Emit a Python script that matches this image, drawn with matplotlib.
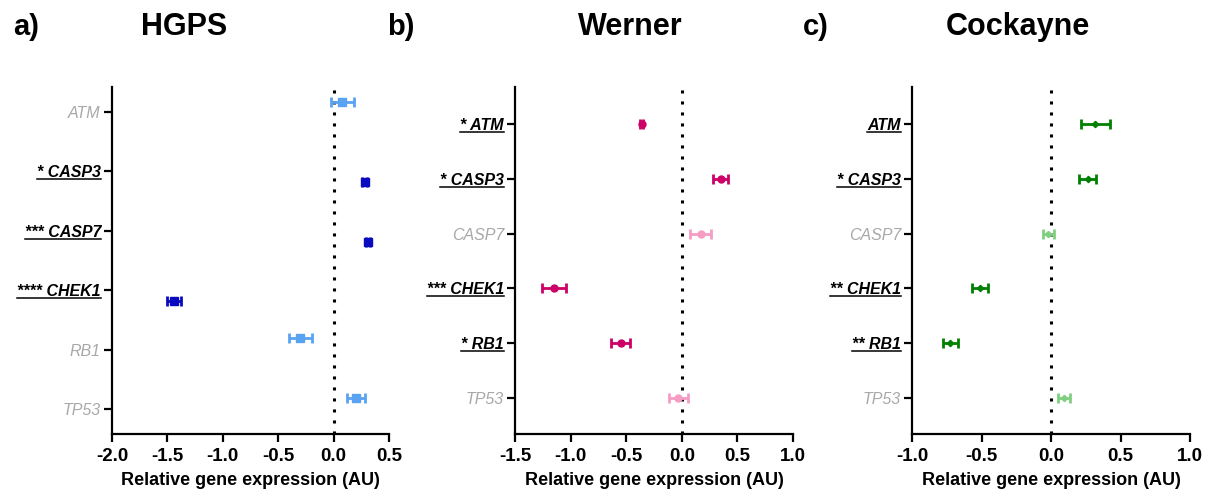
import numpy as np
import matplotlib
matplotlib.use("Agg")
import matplotlib.pyplot as plt
from matplotlib.lines import Line2D

plt.rcParams['font.family'] = ['Liberation Sans', 'DejaVu Sans']

# Datos
genes = ["ATM", "CASP3", "CASP7", "CHEK1", "RB1", "TP53"]

hgps_mean = [0.08, 0.28, 0.31, -1.44, -0.30, 0.20]
hgps_err = [0.10, 0.02, 0.02, 0.06, 0.105, 0.08]
hgps_stars = ["", "*", "***", "****", "", ""]
hgps_shift = [-0.17, 0.185, 0.185, 0.185, -0.19, -0.185]

werner_mean = [-0.36, 0.35, 0.17, -1.15, -0.55, -0.03]
werner_err = [0.015, 0.068, 0.093, 0.106, 0.088, 0.087]
werner_stars = ["*", "*", "", "***", "*", ""]

cock_mean = [0.32, 0.265, -0.02, -0.51, -0.725, 0.095]
cock_err = [0.103, 0.061, 0.04, 0.056, 0.053, 0.042]
cock_stars = ["", "*", "", "**", "**", ""]
cock_sig = [True, True, False, True, True, False]

fig = plt.figure(figsize=(12.13, 4.9), dpi=100)

paneles = [
    dict(rect=[112 / 1213, 56 / 490, 277 / 1213, 347 / 490], mean=hgps_mean, err=hgps_err,
         stars=hgps_stars, sig=[s != "" for s in hgps_stars], shift=hgps_shift,
         xlim=(-2.0, 0.5), ylim=(5.42, -0.42), marker="s", ms=5.8,
         dark="#0a0ac0", light="#5aa2f2"),
    dict(rect=[515 / 1213, 56 / 490, 278 / 1213, 347 / 490], mean=werner_mean, err=werner_err,
         stars=werner_stars, sig=[s != "" for s in werner_stars], shift=[0] * 6,
         xlim=(-1.5, 1.0), ylim=(5.66, -0.675), marker="o", ms=5,
         dark="#cc0066", light="#f59cc4"),
    dict(rect=[912 / 1213, 56 / 490, 278 / 1213, 347 / 490], mean=cock_mean, err=cock_err,
         stars=cock_stars, sig=cock_sig, shift=[0] * 6,
         xlim=(-1.0, 1.0), ylim=(5.66, -0.675), marker="D", ms=3.2,
         dark="#008000", light="#80cf80"),
]

ejes = []
for p in paneles:
    ax = fig.add_axes(p["rect"])
    y = np.arange(len(genes))
    for i in range(len(genes)):
        c = p["dark"] if p["sig"][i] else p["light"]
        ax.errorbar(p["mean"][i], y[i] + p["shift"][i], xerr=p["err"][i], fmt=p["marker"],
                    color=c, ms=p["ms"], elinewidth=2, capsize=3.5, capthick=2, zorder=3)
    ax.axvline(0, color="black", linestyle=(0, (1, 2.6)), linewidth=2.2, zorder=2)
    ax.set_xlim(p["xlim"])
    ax.set_ylim(p["ylim"])
    ax.set_xticks(np.arange(p["xlim"][0], p["xlim"][1] + 0.01, 0.5))
    ax.set_xticklabels(["%.1f" % v for v in np.arange(p["xlim"][0], p["xlim"][1] + 0.01, 0.5)],
                       fontsize=13.5, fontweight="bold")
    ax.set_yticks(y)
    labels = []
    for g, s in zip(genes, p["stars"]):
        labels.append((s + " " + g) if s else g)
    ax.set_yticklabels(labels, fontsize=11.5, fontstyle="italic")
    for t, sig in zip(ax.get_yticklabels(), p["sig"]):
        if sig:
            t.set_color("black")
            t.set_fontweight("bold")
        else:
            t.set_color("#a8a8a8")
    ax.spines["top"].set_visible(False)
    ax.spines["right"].set_visible(False)
    ax.spines["left"].set_linewidth(1.6)
    ax.spines["bottom"].set_linewidth(1.6)
    ax.tick_params(axis="both", width=1.6, length=6, direction="out", pad=4)
    ax.tick_params(axis="y", pad=2)
    ax.set_xlabel("Relative gene expression (AU)", fontsize=13, fontweight="bold", labelpad=5)
    ejes.append((ax, p))

# Titulos
fig.text(13 / 1213, 1 - 27 / 490, "a)", fontsize=21, fontweight="bold", va="center")
fig.text(184 / 1213, 1 - 27 / 490, "HGPS", fontsize=22, fontweight="bold", va="center", ha="center")
fig.text(387 / 1213, 1 - 27 / 490, "b)", fontsize=21, fontweight="bold", va="center")
fig.text(630 / 1213, 1 - 27 / 490, "Werner", fontsize=22, fontweight="bold", va="center", ha="center")
fig.text(803 / 1213, 1 - 27 / 490, "c)", fontsize=21, fontweight="bold", va="center")
fig.text(1018 / 1213, 1 - 27 / 490, "Cockayne", fontsize=22, fontweight="bold", va="center", ha="center")

# Subrayar los genes significativos
fig.canvas.draw()
renderer = fig.canvas.get_renderer()
inv = fig.transFigure.inverted()
for ax, p in ejes:
    for t, sig in zip(ax.get_yticklabels(), p["sig"]):
        if sig:
            bb = t.get_window_extent(renderer)
            (x0, y0) = inv.transform((bb.x0, bb.y0 + 1))
            (x1, _) = inv.transform((bb.x1, bb.y0 + 1))
            fig.add_artist(Line2D([x0, x1], [y0, y0], color="black", linewidth=1.1,
                                  transform=fig.transFigure))

fig.savefig("out.png", dpi=100)
